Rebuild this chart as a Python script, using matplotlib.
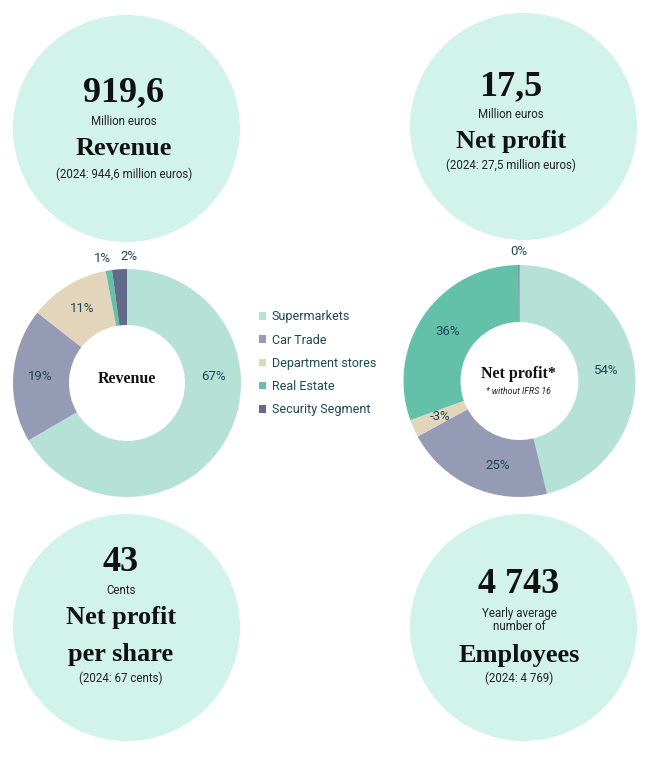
import numpy as np
import matplotlib
matplotlib.use("Agg")
import matplotlib.pyplot as plt
from matplotlib.patches import Circle

# segment data (share of revenue / net profit, %)
segments = ['Supermarkets', 'Car Trade', 'Department stores', 'Real Estate', 'Security Segment']
revenue_share = [66.6, 19.0, 11.4, 0.9, 2.1]
profit_share = [54.4, 24.6, -2.9, 35.7, 0.2]
seg_colors = ['#b5e1d7', '#959bb5', '#e2d5bb', '#62c1a8', '#636b8a']

# key figures in the four circles
kpi_values = ['919,6', '17,5', '43', '4 743']
kpi_units = ['Million euros', 'Million euros', 'Cents', 'Yearly average\nnumber of']
kpi_titles = ['Revenue', 'Net profit', 'Net profit\nper share', 'Employees']
kpi_prev = ['(2024: 944,6 million euros)', '(2024: 27,5 million euros)',
            '(2024: 67 cents)', '(2024: 4 769)']

W, H = 658, 759
SERIF = 'Liberation Serif'
SANS = 'Roboto'
TXT = '#1b4853'
MINT = '#d1f3e9'

fig = plt.figure(figsize=(W / 100, H / 100), dpi=100)
ax = fig.add_axes([0, 0, 1, 1])


def t(x, y, s, size, serif=False, **kw):
    # y given in pixels from top
    kw.setdefault('ha', 'center')
    kw.setdefault('va', 'baseline')
    ax.text(x, H - y, s, fontsize=size, family=SERIF if serif else SANS,
            fontweight='bold' if serif else 'normal', **kw)


# background circles
circles = [(126.5, 128.5), (523.5, 126.5), (126.5, 627.5), (523.5, 627.5)]
for cx, cy in circles:
    ax.add_patch(Circle((cx, H - cy), 113.5, color=MINT, lw=0))

# circle texts: x center, baselines for value / unit lines / title lines / previous
layout = [
    (124, 101, [125], [155], 178),
    (511, 95, [118], [148], 169),
    (121, 571, [594], [624, 661], 682),
    (519, 593, [617, 630], [662], 682),
]
for i, (x, yv, yu, yt, yp) in enumerate(layout):
    t(x, yv, kpi_values[i], 26, serif=True, color='#111111')
    for line, y in zip(kpi_units[i].split('\n'), yu):
        t(x, y, line, 8.3, color='#222222')
    for line, y in zip(kpi_titles[i].split('\n'), yt):
        t(x, y, line, 19, serif=True, color='#111111')
    t(x, yp, kpi_prev[i], 8.3, color='#222222')


def donut(values, center, radius, width, label_r, overrides, outside_r):
    cx, cy = center
    sizes = np.abs(values)
    wedges, _ = ax.pie(sizes, colors=seg_colors, startangle=90, counterclock=False,
                       center=(cx, H - cy), radius=radius,
                       wedgeprops=dict(width=width, linewidth=0))
    frac = np.cumsum(sizes) / sizes.sum()
    mids = frac - sizes / sizes.sum() / 2
    for i, v in enumerate(values):
        ang = 90 - mids[i] * 360
        r = label_r
        if abs(v) < 2.5:
            r = outside_r
        if i in overrides:
            ang = overrides[i]
        a = np.deg2rad(ang)
        ax.text(cx + r * np.cos(a), H - cy + r * np.sin(a), f"{round(v):.0f}%",
                ha='center', va='center', fontsize=9.5, family=SANS, color=TXT)
    return wedges


wl = donut(revenue_share, (127, 383), 114, 56, 87, {0: 4, 3: 101, 4: 89}, 127)
donut(profit_share, (519.5, 381), 116, 57, 87, {1: -104.5}, 130)

t(127, 383, 'Revenue', 11.5, serif=True, color='#111111')
t(518, 378, 'Net profit*', 11.5, serif=True, color='#111111')
t(518, 394, '* without IFRS 16', 6.3, color='#222222', style='italic')

fig.legend(wl, segments, loc='upper left', bbox_to_anchor=(253 / W, 1 - 304 / H),
           frameon=False, borderpad=0, handlelength=0.55, handleheight=0.55,
           handletextpad=0.45, labelspacing=0.82, labelcolor=TXT,
           prop={'family': SANS, 'size': 9})

ax.set_xlim(0, W)
ax.set_ylim(0, H)
ax.set_aspect('equal')
ax.axis('off')

fig.savefig('out.png', dpi=100, facecolor='white')
